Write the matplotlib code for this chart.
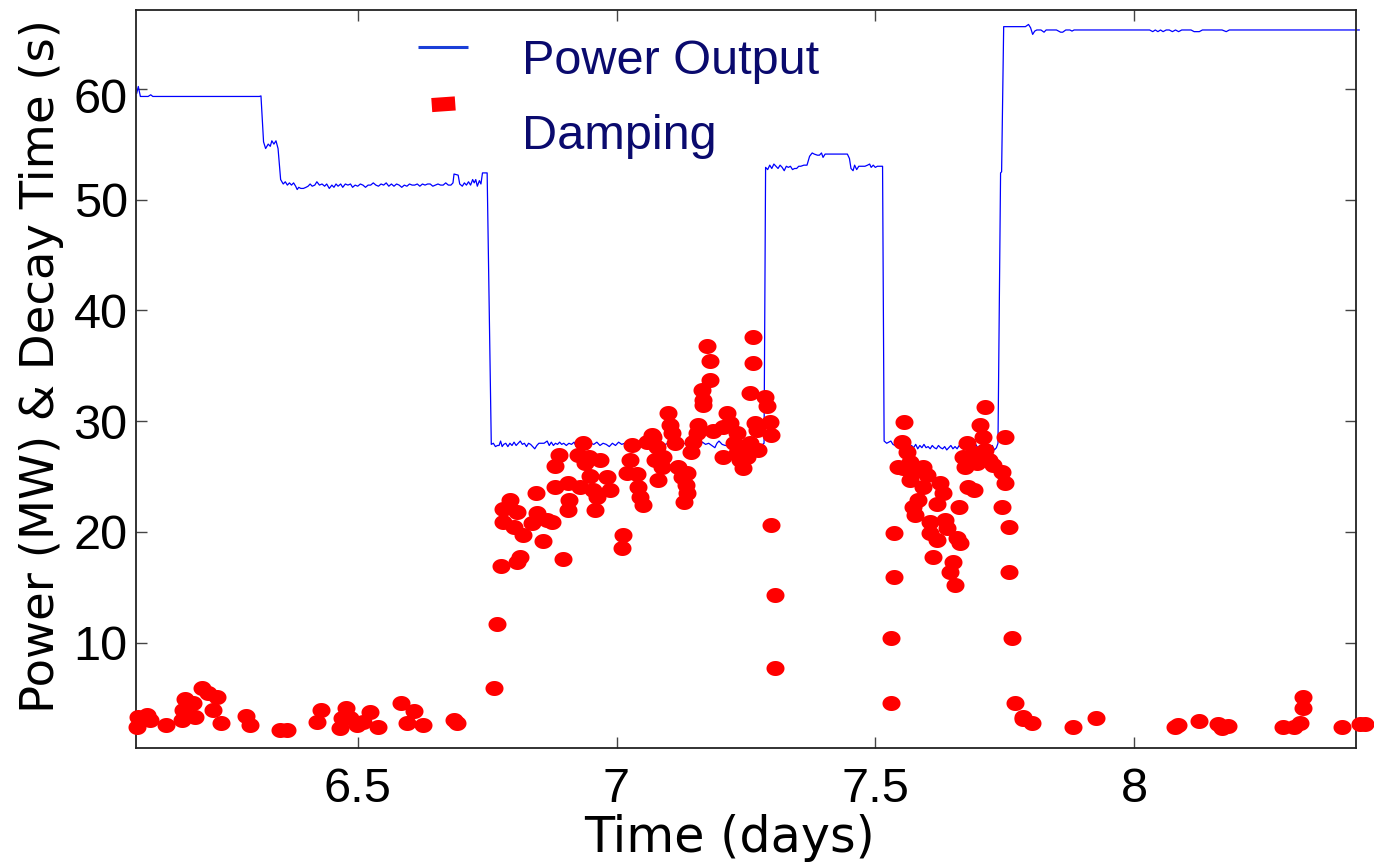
import matplotlib
matplotlib.use('Agg')
import matplotlib.pyplot as plt
import matplotlib.transforms as mtransforms
import numpy as np
from matplotlib.path import Path
from matplotlib.lines import Line2D

# power output trace (days, MW)
power_t = [6.073, 6.076, 6.080, 6.095, 6.100, 6.104, 6.200, 6.310, 6.313, 6.318,
           6.322, 6.327, 6.331, 6.334, 6.338, 6.342, 6.346, 6.351, 6.356, 6.360,
           6.364, 6.368, 6.372, 6.376, 6.380, 6.383, 6.386, 6.390, 6.395, 6.400,
           6.404, 6.408, 6.412, 6.417, 6.421, 6.426, 6.431, 6.436, 6.440, 6.445,
           6.450, 6.454, 6.458, 6.462, 6.467, 6.471, 6.476, 6.481, 6.486, 6.490,
           6.495, 6.500, 6.505, 6.510, 6.515, 6.520, 6.525, 6.530, 6.535, 6.540,
           6.545, 6.550, 6.555, 6.560, 6.565, 6.570, 6.575, 6.580, 6.585, 6.590,
           6.595, 6.600, 6.605, 6.610, 6.615, 6.620, 6.625, 6.630, 6.635, 6.640,
           6.645, 6.650, 6.655, 6.660, 6.665, 6.670, 6.675, 6.680, 6.684, 6.686,
           6.694, 6.697, 6.702, 6.706, 6.710, 6.714, 6.718, 6.722, 6.725, 6.728,
           6.731, 6.735, 6.738, 6.741, 6.745, 6.750, 6.758,
           6.762, 6.766, 6.770, 6.773, 6.776, 6.779, 6.782, 6.786, 6.790, 6.794,
           6.798, 6.802, 6.806, 6.810, 6.814, 6.818, 6.822, 6.826, 6.830, 6.834,
           6.838, 6.842, 6.846, 6.850, 6.855, 6.860, 6.866, 6.870, 6.874, 6.878,
           6.882, 6.886, 6.890, 6.894, 6.898, 6.903, 6.908, 6.913, 6.918, 6.922,
           6.926, 6.932, 6.938, 6.944, 6.950, 6.956, 6.962, 6.968, 6.974, 6.980,
           6.986, 6.992, 6.998, 7.004, 7.010, 7.016, 7.022, 7.028, 7.034, 7.040,
           7.046, 7.052, 7.058, 7.064, 7.070, 7.076, 7.082, 7.088, 7.094, 7.100,
           7.106, 7.112, 7.118, 7.124, 7.130, 7.136, 7.142, 7.148, 7.154, 7.160,
           7.166, 7.172, 7.178, 7.184, 7.190, 7.194, 7.198, 7.204, 7.210, 7.216,
           7.222, 7.230, 7.240, 7.250, 7.260, 7.270, 7.280, 7.285, 7.288,
           7.292, 7.296, 7.300, 7.304, 7.308, 7.312, 7.316, 7.320, 7.324, 7.328,
           7.332, 7.336, 7.340, 7.344, 7.348, 7.352, 7.356, 7.362, 7.368, 7.373,
           7.378, 7.382, 7.388, 7.392, 7.396, 7.399, 7.403, 7.410, 7.420, 7.430,
           7.446, 7.450, 7.453, 7.457, 7.460, 7.464, 7.468, 7.474, 7.480, 7.485,
           7.489, 7.492, 7.496, 7.500, 7.504, 7.510, 7.514, 7.517,
           7.522, 7.526, 7.530, 7.534, 7.538, 7.542, 7.546, 7.550, 7.554, 7.558,
           7.562, 7.566, 7.570, 7.574, 7.578, 7.582, 7.586, 7.590, 7.594, 7.598,
           7.602, 7.606, 7.610, 7.614, 7.618, 7.622, 7.626, 7.630, 7.634, 7.638,
           7.642, 7.646, 7.650, 7.654, 7.658, 7.662, 7.666, 7.670, 7.674, 7.678,
           7.682, 7.686, 7.690, 7.694, 7.698, 7.702, 7.706, 7.710, 7.714, 7.718,
           7.722, 7.726, 7.730, 7.734, 7.737, 7.742, 7.744, 7.748,
           7.760, 7.780, 7.790, 7.796, 7.800, 7.804, 7.808, 7.812, 7.820, 7.826,
           7.830, 7.850, 7.858, 7.862, 7.868, 7.876, 7.880, 7.884, 7.920, 7.960,
           8.000, 8.030, 8.036, 8.041, 8.046, 8.051, 8.056, 8.062, 8.068, 8.074,
           8.080, 8.086, 8.092, 8.110, 8.116, 8.126, 8.132, 8.170, 8.178, 8.184,
           8.250, 8.300, 8.350, 8.435]
power_mw = [59.6, 60.2, 59.3, 59.3, 59.45, 59.3, 59.3, 59.3, 59.35, 55.2,
            54.6, 55.0, 54.8, 55.3, 55.0, 55.3, 54.6, 51.8, 51.4, 51.6,
            51.3, 51.5, 51.3, 51.5, 51.2, 50.9, 51.1, 51.0, 51.0, 51.1,
            51.2, 51.4, 51.2, 51.3, 51.6, 51.3, 51.4, 51.2, 51.4, 51.0,
            51.3, 51.1, 51.4, 51.2, 51.4, 51.1, 51.4, 51.3, 51.4, 51.1,
            51.3, 51.2, 51.4, 51.3, 51.1, 51.3, 51.3, 51.5, 51.3, 51.2,
            51.4, 51.3, 51.5, 51.2, 51.4, 51.2, 51.4, 51.3, 51.1, 51.3,
            51.2, 51.4, 51.3, 51.3, 51.4, 51.2, 51.4, 51.3, 51.4, 51.4,
            51.2, 51.3, 51.4, 51.3, 51.3, 51.5, 51.3, 51.3, 51.5, 52.3,
            52.2, 51.4, 51.2, 51.5, 51.3, 51.6, 51.3, 51.8, 51.5, 51.8,
            51.2, 51.7, 51.4, 52.4, 52.4, 52.4, 27.9,
            28.0, 27.7, 27.8, 27.8, 28.2, 27.7, 27.9, 28.0, 27.7, 28.0,
            27.8, 28.1, 27.8, 28.0, 28.2, 27.9, 28.0, 27.7, 28.0, 27.9,
            27.7, 27.5, 27.8, 28.0, 28.0, 28.0, 28.2, 27.8, 28.1, 27.8,
            28.0, 27.9, 28.1, 27.9, 28.0, 27.8, 28.0, 27.9, 28.1, 27.7,
            28.0, 27.9, 28.1, 27.8, 28.0, 27.9, 28.1, 27.8, 28.0, 27.9,
            27.7, 28.0, 27.8, 28.1, 27.9, 28.0, 27.8, 28.0, 27.9, 28.1,
            27.7, 28.0, 27.9, 27.8, 28.0, 27.9, 28.1, 27.8, 27.9, 28.0,
            27.8, 28.0, 27.9, 27.7, 28.0, 27.9, 27.8, 28.0, 27.9, 27.8,
            28.1, 27.9, 28.0, 27.8, 27.6, 28.0, 28.2, 27.9, 27.8, 27.8,
            27.8, 27.9, 27.8, 27.8, 27.8, 27.9, 27.8, 28.0, 52.9,
            52.7, 53.1, 52.8, 53.2, 53.0, 52.8, 53.1, 52.9, 52.6, 53.0,
            52.9, 53.0, 52.7, 52.8, 52.8, 53.0, 53.0, 53.1, 53.1, 53.9,
            54.2, 54.1, 54.0, 54.0, 54.2, 53.8, 54.1, 54.1, 54.1, 54.1,
            54.1, 53.7, 52.8, 52.6, 53.1, 52.7, 53.0, 53.0, 53.0, 53.1,
            53.2, 52.9, 53.1, 52.9, 53.0, 53.0, 53.0, 28.2,
            28.0, 28.1, 28.2, 27.9, 27.8, 27.7, 28.0, 27.6, 27.9, 27.7,
            27.9, 27.5, 27.8, 27.6, 27.9, 27.5, 27.8, 27.6, 27.9, 27.6,
            27.7, 27.5, 27.8, 27.6, 27.5, 27.8, 27.6, 27.5, 27.7, 27.4,
            27.6, 27.8, 27.5, 27.7, 27.5, 27.8, 27.6, 27.9, 27.6, 27.8,
            27.5, 27.7, 27.6, 27.9, 27.6, 27.8, 27.6, 27.9, 27.7, 27.8,
            27.6, 27.8, 27.4, 27.6, 28.0, 52.4, 52.5, 65.6,
            65.6, 65.6, 65.6, 65.8, 65.5, 64.9, 65.2, 65.3, 65.3, 65.1,
            65.3, 65.3, 65.1, 65.1, 65.3, 65.3, 65.2, 65.3, 65.3, 65.3,
            65.3, 65.3, 65.15, 65.3, 65.15, 65.3, 65.15, 65.3, 65.3, 65.15,
            65.3, 65.15, 65.3, 65.3, 65.15, 65.15, 65.3, 65.3, 65.15, 65.3,
            65.3, 65.3, 65.3, 65.3]

# damping decay times (days, s)
damping_t = [6.073, 6.076, 6.092, 6.099, 6.130, 6.160, 6.166, 6.182, 6.186, 6.163,
             6.199, 6.211, 6.229, 6.221, 6.235, 6.284, 6.292, 6.350, 6.363, 6.429,
             6.422, 6.477, 6.469, 6.466, 6.485, 6.498, 6.524, 6.511, 6.540, 6.583,
             6.609, 6.595, 6.627, 6.685, 6.691, 6.764,
             6.770, 6.777, 6.814, 6.807, 6.897, 6.781, 6.794, 6.807, 6.781, 6.801,
             6.820, 6.836, 6.846, 6.845, 6.857, 6.865, 6.875, 6.881, 6.888, 6.881,
             6.907, 6.907, 6.909, 6.930, 6.926, 6.936, 6.939, 6.946, 6.949, 6.968,
             6.955, 6.958, 6.962, 6.981, 6.987, 7.013, 7.010, 7.020, 7.026, 7.029,
             7.039, 7.042, 7.045, 7.051, 7.058, 7.071, 7.068, 7.078, 7.090, 7.074,
             7.081, 7.087, 7.100, 7.103, 7.107, 7.113, 7.119, 7.126, 7.136, 7.134,
             7.136, 7.131, 7.143, 7.148, 7.155, 7.158, 7.165, 7.168, 7.168, 7.181,
             7.181, 7.175, 7.187, 7.206, 7.213, 7.219, 7.206, 7.226, 7.232, 7.232,
             7.239, 7.245, 7.242, 7.252, 7.258, 7.257, 7.263, 7.263, 7.268, 7.271,
             7.274, 7.287, 7.290, 7.297, 7.298, 7.298, 7.306, 7.306,
             7.531, 7.531, 7.537, 7.537, 7.556, 7.551, 7.561, 7.544, 7.567, 7.554,
             7.567, 7.580, 7.593, 7.599, 7.593, 7.583, 7.573, 7.577, 7.625, 7.631,
             7.619, 7.606, 7.635, 7.638, 7.606, 7.619, 7.612, 7.657, 7.664, 7.651,
             7.645, 7.654, 7.662, 7.680, 7.690, 7.677, 7.670, 7.673, 7.690, 7.696,
             7.702, 7.709, 7.712, 7.712, 7.719, 7.728, 7.745, 7.751, 7.751, 7.745,
             7.758, 7.758, 7.764, 7.770, 7.786,
             7.786, 7.802, 7.881, 7.926, 8.079, 8.085, 8.126, 8.163, 8.169, 8.182,
             8.288, 8.308, 8.321, 8.326, 8.327, 8.401, 8.436, 8.446]
damping_s = [2.42, 3.30, 3.47, 3.02, 2.57, 3.02, 4.90, 4.53, 3.32, 3.93,
             5.91, 5.46, 5.10, 3.93, 2.78, 3.38, 2.57, 2.12, 2.12, 3.93,
             2.87, 4.11, 3.20, 2.30, 3.20, 2.57, 3.75, 2.87, 2.42, 4.54,
             3.86, 2.78, 2.57, 3.02, 2.78, 5.88,
             11.66, 16.92, 17.76, 17.31, 17.53, 22.04, 22.88, 21.82, 20.92, 20.47,
             19.72, 20.77, 21.68, 23.48, 19.21, 21.07, 20.92, 24.08, 26.94, 25.95,
             24.39, 21.98, 22.88, 24.08, 26.94, 28.00, 26.19, 26.79, 25.05, 26.49,
             23.78, 21.98, 23.18, 24.98, 23.78, 19.72, 18.52, 25.29, 26.49, 27.84,
             25.23, 24.08, 23.18, 22.43, 28.14, 28.59, 28.75, 27.69, 26.79, 26.49,
             24.68, 25.88, 30.70, 29.65, 28.90, 27.99, 25.88, 24.98, 25.29, 24.23,
             23.48, 22.72, 27.24, 28.14, 28.90, 29.65, 32.81, 31.90, 31.45, 33.71,
             35.42, 36.80, 29.11, 26.79, 30.70, 29.80, 29.50, 28.00, 28.90, 27.09,
             26.49, 25.74, 27.69, 26.79, 28.00, 32.50, 35.22, 37.56, 29.80, 29.20,
             27.39, 32.20, 31.36, 29.95, 28.75, 20.62, 14.30, 7.69,
             4.53, 10.40, 15.90, 19.87, 29.89, 28.14, 27.24, 25.88, 26.34, 25.74,
             24.68, 25.59, 25.88, 25.14, 24.08, 22.88, 22.27, 21.53, 24.39, 23.48,
             22.48, 20.92, 21.07, 20.32, 19.87, 19.27, 17.76, 19.42, 18.97, 17.31,
             16.41, 15.21, 22.27, 24.08, 23.78, 28.00, 26.79, 25.88, 27.09, 26.19,
             29.65, 28.59, 31.24, 27.39, 26.49, 26.04, 25.43, 28.59, 24.39, 22.22,
             20.41, 16.41, 10.40, 4.53, 3.32,
             3.09, 2.73, 2.42, 3.23, 2.36, 2.57, 2.93, 2.66, 2.27, 2.48,
             2.42, 2.42, 2.78, 5.07, 4.08, 2.42, 2.66, 2.66]

x_ticks = [6.5, 7, 7.5, 8]
x_ticklabels = ['6.5', '7', '7.5', '8']
y_ticks = [10, 20, 30, 40, 50, 60]

# slightly flattened dot like the original
theta = np.linspace(0, 2 * np.pi, 40)
dot = Path(np.column_stack([1.2 * np.cos(theta), np.sin(theta)]))
# legend symbols sit a bit above their labels in the original,
# so the marker paths carry a vertical offset
ang = np.deg2rad(4)
rect = np.array([[-1, -0.6], [1, -0.6], [1, 0.6], [-1, 0.6], [-1, -0.6]])
rot = np.array([[np.cos(ang), -np.sin(ang)], [np.sin(ang), np.cos(ang)]])
bar = Path(rect @ rot.T + np.array([0, 2.4]))
dash = Path([[-1, 0.4], [1, 0.4]], [Path.MOVETO, Path.LINETO])

fig = plt.figure(figsize=(13.74, 8.65), dpi=100)
fig.set_facecolor('white')
ax = fig.add_axes([0.099, 0.1353, 0.8880, 0.8531])

ax.plot(power_t, power_mw, color='#0000ff', linewidth=0.9, clip_on=False, zorder=2)
ax.plot(damping_t, damping_s, linestyle='none', marker=dot, markersize=13,
        color='#ff0000', markeredgewidth=0, clip_on=False, zorder=3)

ax.set_xlim(6.0716, 8.429)
ax.set_ylim(0.5, 67.1)
ax.set_xticks(x_ticks)
ax.set_xticklabels(x_ticklabels)
ax.set_yticks(y_ticks)

for lab in ax.get_xticklabels() + ax.get_yticklabels():
    lab.set_fontfamily('Liberation Sans')
    lab.set_fontsize(35)

ax.tick_params(axis='both', direction='in', length=8, width=1, color='#444444',
               top=True, right=True, labelcolor='black')
ax.tick_params(axis='x', pad=14)
ax.tick_params(axis='y', pad=6)

# the top "60" label sits a little lower than its tick in the original
top_lab = ax.yaxis.get_major_ticks()[-1].label1
top_lab.set_transform(top_lab.get_transform() +
                      mtransforms.ScaledTranslation(0, -7 / 100, fig.dpi_scale_trans))

for s in ax.spines.values():
    s.set_color('#222222')
    s.set_linewidth(1.3)

ax.set_xlabel('Time (days)', fontfamily='DejaVu Sans', fontsize=35.5, color='black')
ax.set_ylabel('Power (MW) & Decay Time (s)', fontfamily='DejaVu Sans', fontsize=33.5, color='black')
ax.xaxis.set_label_coords(0.486, -0.090)
ax.yaxis.set_label_coords(-0.059, 0.518)

handles = [Line2D([], [], linestyle='none', marker=dash, markersize=36.7,
                  markeredgecolor='#1a3fd8', markeredgewidth=2.2),
           Line2D([], [], linestyle='none', marker=bar, markersize=52,
                  color='#ff0000', markeredgewidth=0)]
leg = ax.legend(handles, ['Power Output', 'Damping'], loc='upper left',
                bbox_to_anchor=(0.225, 0.970), frameon=False,
                prop={'family': 'Liberation Sans', 'size': 35},
                handlelength=1.05, handletextpad=1.1, labelspacing=0.6,
                borderaxespad=0, borderpad=0.15)
for t in leg.get_texts():
    t.set_color('#0a0a6e')

fig.savefig('out.png', dpi=100, facecolor='white')
